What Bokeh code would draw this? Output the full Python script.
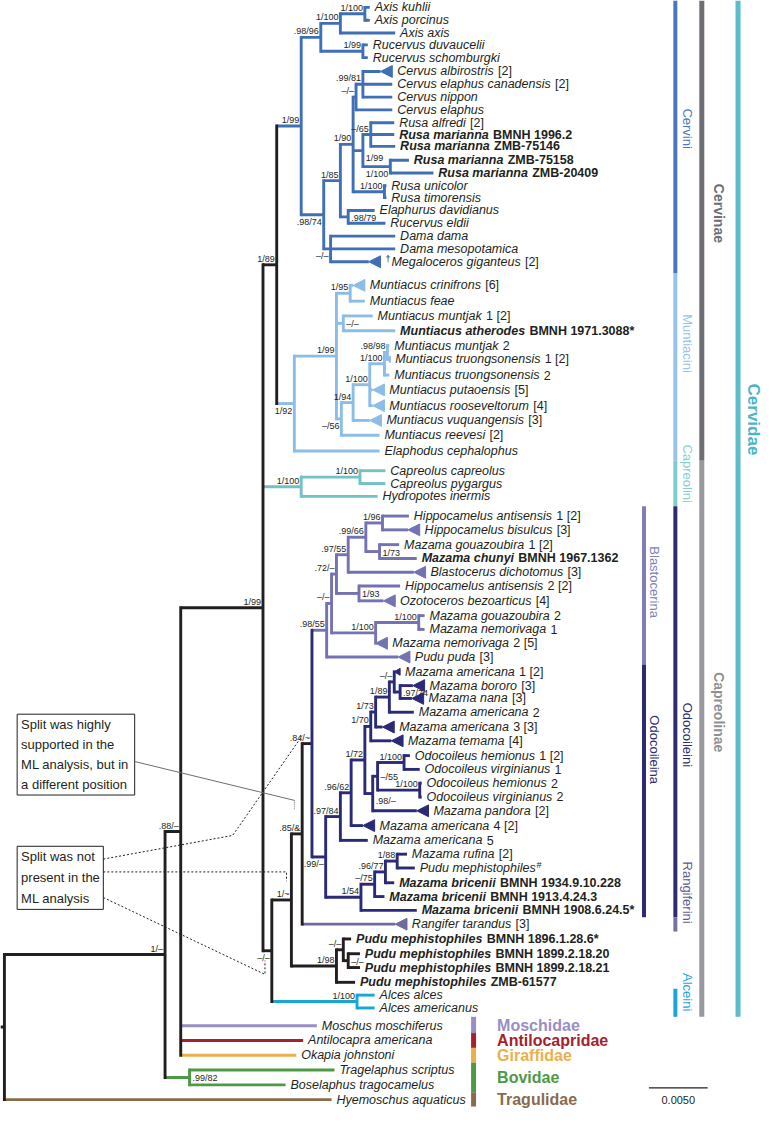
import re
import math
from bokeh.plotting import figure
from bokeh.models import Range1d, ColumnDataSource
from bokeh.core.properties import value
from bokeh.embed import file_html
from bokeh.resources import INLINE

# ----------------------------------------------------------------- data
TIP_NAME = [
    "Axis kuhlii", "Axis porcinus", "Axis axis", "Rucervus duvaucelii", "Rucervus schomburgki",
    "Cervus albirostris", "Cervus elaphus canadensis", "Cervus nippon", "Cervus elaphus", "Rusa alfredi",
    "Rusa marianna", "Rusa marianna", "Rusa marianna", "Rusa marianna", "Rusa unicolor",
    "Rusa timorensis", "Elaphurus davidianus", "Rucervus eldii", "Dama dama", "Dama mesopotamica",
    "\u2020Megaloceros giganteus",
    "Muntiacus crinifrons", "Muntiacus feae", "Muntiacus muntjak", "Muntiacus atherodes", "Muntiacus muntjak",
    "Muntiacus truongsonensis", "Muntiacus truongsonensis", "Muntiacus putaoensis", "Muntiacus rooseveltorum",
    "Muntiacus vuquangensis", "Muntiacus reevesi", "Elaphodus cephalophus",
    "Capreolus capreolus", "Capreolus pygargus", "Hydropotes inermis",
    "Hippocamelus antisensis", "Hippocamelus bisulcus", "Mazama gouazoubira", "Mazama chunyi",
    "Blastocerus dichotomus", "Hippocamelus antisensis", "Ozotoceros bezoarticus", "Mazama gouazoubira",
    "Mazama nemorivaga", "Mazama nemorivaga", "Pudu puda",
    "Mazama americana", "Mazama bororo", "Mazama nana", "Mazama americana", "Mazama americana",
    "Mazama temama", "Odocoileus hemionus", "Odocoileus virginianus", "Odocoileus hemionus",
    "Odocoileus virginianus", "Mazama pandora", "Mazama americana", "Mazama americana", "Mazama rufina",
    "Pudu mephistophiles", "Mazama bricenii", "Mazama bricenii", "Mazama bricenii", "Rangifer tarandus",
    "Pudu mephistophiles", "Pudu mephistophiles", "Pudu mephistophiles", "Pudu mephistophiles",
    "Alces alces", "Alces americanus",
    "Moschus moschiferus", "Antilocapra americana", "Okapia johnstoni", "Tragelaphus scriptus",
    "Boselaphus tragocamelus", "Hyemoschus aquaticus",
]
TIP_SUFFIX = [
    "", "", "", "", "",
    " [2]", " [2]", "", "", " [2]",
    " BMNH 1996.2", " ZMB-75146", " ZMB-75158", " ZMB-20409", "",
    "", "", "", "", "",
    " [2]",
    " [6]", "", " 1 [2]", " BMNH 1971.3088*", " 2",
    " 1 [2]", " 2", " [5]", " [4]",
    " [3]", " [2]", "",
    "", "", "",
    " 1 [2]", " [3]", " 1 [2]", " BMNH 1967.1362",
    " [3]", " 2 [2]", " [4]", " 2",
    " 1", " 2 [5]", " [3]",
    " 1 [2]", " [3]", " [3]", " 2", " 3 [3]",
    " [4]", " 1 [2]", " 1", " 2",
    " 2", " [2]", " 4 [2]", " 5", " [2]",
    "#", " BMNH 1934.9.10.228", " BMNH 1913.4.24.3", " BMNH 1908.6.24.5*", " [3]",
    " BMNH 1896.1.28.6*", " BMNH 1899.2.18.20", " BMNH 1899.2.18.21", " ZMB-61577",
    "", "",
    "", "", "", "",
    "", "",
]
# specimens sequenced in this study (bold), 1-based tip numbers
TIP_BOLD = [11, 12, 13, 14, 25, 40, 63, 64, 65, 67, 68, 69, 70]
# vertical row of every tip (top to bottom)
TIP_ROW = [
    7, 20, 33, 45, 58, 72, 85, 98, 111, 124, 136, 148, 162, 175, 188, 200, 213, 226, 239, 252, 265,
    289, 305, 320, 335, 350, 364, 380, 395, 411, 426, 441, 457,
    477, 490, 503,
    523, 537, 552, 566, 580, 594, 609, 624, 638, 652, 666,
    681, 695, 708, 722, 737, 751, 766, 780, 794, 808, 822, 837, 852, 866, 880, 895, 909, 923, 937,
    952, 967, 981, 996, 1009, 1022,
    1040, 1055, 1070, 1085, 1100, 1115,
]
# collapsed clades drawn as triangles (2 = normal, 1 = small)
TIP_COLLAPSED_NORMAL = [6, 21, 22, 29, 30, 31, 38, 41, 43, 46, 47, 49, 50, 52, 53, 58, 59, 66]
TIP_COLLAPSED_SMALL = [27, 48]

# topology with branch lengths (units: 60 = 0.0050 substitutions/site)
NEWICK = (
    "(((((("
    "(((t01:5,t02:5)nKP:25,t03:56)nAxis:20,(t04:5,t05:5)nRuc:43)n9896:20,"
    "(((((t06:30,t07:30,t08:30)n9981:7,t09:37)nCerv:3,"
    "((t10:24,t11:24,t12:25)n65:8,(t13:19,t14:44)n1100a:28)n199:10,"
    "(t15:2,t16:2)n1100b:32)n190:13,(t17:27,t18:38)n9879:8)n185:17,"
    "(t19:66,t20:66,t21:51)nDama:7)n9874:23)CV:25,"
    "(((t22:15,t23:15)n195:14,(t24:30,t25:53)nMd:7,"
    "(((((t26:2,t27:3)n9898:3,t28:5)n1100c:15,t29:15,t30:15)nPq:17,t31:29)n194:12,t32:39)n56:5)nM99:43,"
    "t33:87)nMun:18)CI:14,"
    "((t34:26,t35:26)nCapreolus:60,t36:78)nCap:39,"
    "(((("
    "((((((t37:27,t38:38)n196:17,(t39:20,t40:38)n173:14)n9966:18,t41:79)n9755:12,"
    "(t42:42,t43:37)n193:23)n72:5,((t44:6,t45:6)n1100e:44,t46:12)n1100d:45)nBm:5,t47:85)nBl:15,"
    "((((((((t48:6,(t49:25,t50:24)n9774:6)nMm:5,t51:25)n189:14,t52:19)n173b:5,t53:33)n170:6,"
    "(((t54:6,t55:16)n1100f:27,(t56:2,t57:2)n1100g:43)n55:5,t58:57)n98:8)n172:14,t59:24)n9662:11,t60:28)n9784:15,"
    "((((t61:10,t62:18)n188:12,t63:9)n9677:11,t64:10)n75:14,t65:57)n54:36)nOa:14)nOd:10,"
    "t66:107)n85:11,((t67:8,(t68:12,t69:12)nP2:5)nP1:7,t70:19)nPudu:46)n1t:20,"
    "(t71:18,t72:18)nAl:87)B:9)CE:84,"
    "t73:139,t74:125,t75:118)A:16,(t76:148,t77:98)nBov:25)P:164,t78:334)R;"
)

# posterior probability / ML bootstrap
SUPPORT = {
    "nKP": "1/100", "nAxis": "1/100", "n9896": ".98/96", "nRuc": "1/99", "CV": "1/99",
    "n9981": ".99/81", "nCerv": "\u2013/\u2013", "n65": "\u2013/65", "n199": "1/99", "n1100a": "1/100",
    "n1100b": "1/100", "n190": "1/90", "n185": "1/85", "n9879": ".98/79", "n9874": ".98/74",
    "nDama": "\u2013/\u2013", "CI": "1/89", "n195": "1/95", "nMd": "\u2013/\u2013", "n9898": ".98/98",
    "n1100c": "1/100", "nPq": "1/100", "n194": "1/94", "n56": "\u2013/56", "nM99": "1/99", "nMun": "1/92",
    "nCapreolus": "1/100", "nCap": "1/100", "CE": "1/99", "n196": "1/96", "n173": "1/73",
    "n9966": ".99/66", "n9755": ".97/55", "n193": "1/93", "n72": ".72/\u2013", "n1100e": "1/100",
    "n1100d": "1/100", "nBm": "\u2013/\u2013", "nBl": ".98/55", "n9774": ".97/74", "nMm": "\u2013/\u2013",
    "n189": "1/89", "n173b": "1/73", "n170": "1/70", "n1100f": "1/100", "n1100g": "1/100",
    "n55": "\u2013/55", "n98": ".98/\u2013", "n172": "1/72", "n9662": ".96/62", "n9784": ".97/84",
    "n188": "1/88", "n9677": ".96/77", "n75": "\u2013/75", "n54": "1/54", "nOa": ".99/\u2013",
    "nOd": ".84/~", "n85": ".85/&", "nP2": "\u2013/\u2013", "nP1": "\u2013/\u2013", "nPudu": "1/98",
    "n1t": "1/~", "nAl": "1/100", "B": "\u2013/\u2013", "A": ".88/\u2013", "nBov": ".99/82", "P": "1/\u2013",
}

FAMILIES = ["Moschidae", "Antilocapridae", "Giraffidae", "Bovidae", "Tragulidae"]
FAMILY_TIPS = [(73, 73), (74, 74), (75, 75), (76, 77), (78, 78)]

GROUPS = ["Cervini", "Muntiacini", "Capreolini", "Odocoileini", "Rangiferini", "Alceini",
          "Blastocerina", "Odocoileina", "Cervinae", "Capreolinae", "Cervidae"]
GROUP_TIPS = [(1, 21), (22, 33), (34, 36), (37, 65), (66, 66), (71, 72),
              (37, 47), (48, 65), (1, 33), (34, 72), (1, 72)]

SCALE_BAR_VALUE = 0.005
UNITS_PER_SUBST = 12000.0

# ----------------------------------------------------------------- style
INK = "#231f20"
FONT = "Liberation Sans"
CLADE_COLOR = {
    "CV": "#3f6fb6", "nMun": "#8cbde6", "nCap": "#72c2c5", "nBl": "#7472b2", "nOd": "#2b2a78",
    "t66": "#6f6b9b", "nAl": "#17a6d6", "t73": "#998ec4", "t74": "#a4222d", "t75": "#e9b04e",
    "nBov": "#4e9945", "t78": "#8a6b4c",
}
STEM_COLOR = {"nOd": INK}
LABEL_PLACE = {
    "n199": "br", "n1100a": "b", "n9879": "r", "n9874": "b", "nDama": "b", "nMd": "r", "n56": "b",
    "nMun": "b", "n173": "r", "n193": "r", "n9774": "r", "n55": "r", "n98": "br", "nOa": "b",
    "nP2": "r", "B": "b", "nBov": "r",
}
FAMILY_COLOR = ["#998ec4", "#a4222d", "#e9b04e", "#4e9945", "#8a6b4c"]
# column, bar colour, text colour, font px, bold, label centre (None = bar centre)
GROUP_STYLE = [
    (1, "#4a76bb", "#4a76bb", 13, False, 130),
    (1, "#95c3ea", "#95c3ea", 13, False, 348),
    (1, "#80cccc", "#86cfcf", 13, False, 480),
    (1, "#2e2c70", "#2e2c70", 13, False, 745),
    (1, "#77739f", "#5e5a8c", 13, False, 905),
    (1, "#1aa7d7", "#1aa7d7", 13, False, 1006),
    (0, "#7f7eb9", "#8080bb", 13, False, 590),
    (0, "#2e2c70", "#2e2c70", 13, False, 760),
    (2, "#6d6e71", "#6d6e71", 14, True, 216),
    (2, "#98999c", "#8f9093", 14, True, 722),
    (3, "#5bbccb", "#4db5c5", 17, True, 425),
]
COL_BAR_X = [657, 689, 716, 753]
COL_BAR_W = [4, 4, 5, 5]
COL_TEXT_X = [668, 701, 734, 769]

REG_W = {' ': 278, '#': 556, '*': 389, '-': 333, '.': 278, '/': 278, '[': 278, ']': 278, '\u2020': 556,
         'A': 667, 'B': 667, 'C': 722, 'D': 722, 'E': 667, 'F': 611, 'G': 778, 'H': 722, 'I': 278,
         'J': 500, 'K': 667, 'L': 556, 'M': 833, 'N': 722, 'O': 778, 'P': 667, 'Q': 778, 'R': 722,
         'S': 667, 'T': 611, 'U': 722, 'V': 667, 'W': 944, 'X': 667, 'Y': 667, 'Z': 611,
         'a': 556, 'b': 556, 'c': 500, 'd': 556, 'e': 556, 'f': 278, 'g': 556, 'h': 556, 'i': 222,
         'j': 222, 'k': 500, 'l': 222, 'm': 833, 'n': 556, 'o': 556, 'p': 556, 'q': 556, 'r': 333,
         's': 500, 't': 278, 'u': 556, 'v': 500, 'w': 722, 'x': 500, 'y': 500, 'z': 500}
BOLD_W = {' ': 278, '#': 556, '*': 389, '-': 333, '.': 278, '/': 278, '[': 333, ']': 333,
          'A': 722, 'B': 722, 'C': 722, 'D': 722, 'E': 667, 'F': 611, 'G': 778, 'H': 722, 'I': 278,
          'M': 833, 'N': 722, 'O': 778, 'P': 667, 'R': 722, 'S': 667, 'Z': 611,
          'a': 556, 'b': 611, 'c': 556, 'd': 611, 'e': 556, 'f': 333, 'g': 611, 'h': 611, 'i': 278,
          'j': 278, 'k': 556, 'l': 278, 'm': 889, 'n': 611, 'o': 611, 'p': 611, 'q': 611, 'r': 389,
          's': 556, 't': 333, 'u': 611, 'v': 556, 'w': 778, 'x': 556, 'y': 556, 'z': 500}


def twidth(s, bold, size):
    tbl = BOLD_W if bold else REG_W
    return sum(tbl.get(ch, 556) for ch in s) * size / 1000.0


# ----------------------------------------------------------------- tree
def parse_newick(s):
    s = s.strip().rstrip(";")
    pos = 0

    def node():
        nonlocal pos
        n = {"children": []}
        if s[pos] == "(":
            pos += 1
            while True:
                n["children"].append(node())
                if s[pos] == ",":
                    pos += 1
                    continue
                assert s[pos] == ")"
                pos += 1
                break
        m = re.match(r"([A-Za-z0-9_]*)(?::([0-9.]+))?", s[pos:])
        n["name"] = m.group(1)
        n["bl"] = float(m.group(2)) if m.group(2) else 0.0
        pos += m.end()
        return n

    root = node()
    assert pos == len(s), (pos, len(s))
    return root


def tip_idx(name):
    return int(name[1:]) - 1


root = parse_newick(NEWICK)
nodes = {}


def setup(n, parent):
    n["parent"] = parent
    nodes[n["name"]] = n
    for c in n["children"]:
        setup(c, n)


setup(root, None)

ROOT_X = 4.0


def place(n, xp):
    n["x"] = xp + n["bl"]
    for c in n["children"]:
        place(c, n["x"])
    if n["children"]:
        n["y"] = (n["children"][0]["y"] + n["children"][-1]["y"]) / 2.0
    else:
        n["y"] = TIP_ROW[tip_idx(n["name"])]


place(root, ROOT_X)

# ----------------------------------------------------------------- figure
W, H = 763, 1108
XR, YR = 779.0, 1124.0
KX, KY = W / XR, H / YR

p = figure(width=W, height=H, x_range=Range1d(0, XR), y_range=Range1d(YR, 0),
           output_backend="svg", toolbar_location=None, min_border=0,
           x_axis_location=None, y_axis_location=None)
p.grid.visible = False
p.outline_line_color = None
p.background_fill_color = "white"
p.border_fill_color = "white"

hseg = dict(x0=[], y0=[], x1=[], y1=[], c=[])
vseg = dict(x0=[], y0=[], x1=[], y1=[], c=[])
tri = dict(xs=[], ys=[], c=[])
TRI = {2: (12.0, 6.0), 1: (6.0, 3.5)}


def draw(n, pcol):
    col = CLADE_COLOR.get(n["name"], pcol)
    n["col"] = col
    if n["parent"] is not None:
        x_end = n["x"]
        if not n["children"]:
            k = tip_idx(n["name"]) + 1
            kind = 2 if k in TIP_COLLAPSED_NORMAL else (1 if k in TIP_COLLAPSED_SMALL else 0)
            if kind:
                w, h = TRI[kind]
                w = min(w, n["bl"])
                x_end = n["x"] - w
                tri["xs"].append([x_end, n["x"], n["x"]])
                tri["ys"].append([n["y"], n["y"] - h, n["y"] + h])
                tri["c"].append(col)
        hseg["x0"].append(n["parent"]["x"]); hseg["x1"].append(x_end)
        hseg["y0"].append(n["y"]); hseg["y1"].append(n["y"])
        hseg["c"].append(STEM_COLOR.get(n["name"], col))
    if n["children"]:
        vseg["x0"].append(n["x"]); vseg["x1"].append(n["x"])
        vseg["y0"].append(n["children"][0]["y"]); vseg["y1"].append(n["children"][-1]["y"])
        vseg["c"].append(col)
    for c in n["children"]:
        draw(c, col)


draw(root, INK)
# root stub
hseg["x0"].append(0.0); hseg["x1"].append(root["x"])
hseg["y0"].append(root["y"]); hseg["y1"].append(root["y"]); hseg["c"].append(INK)

LW = 2.9
p.segment("x0", "y0", "x1", "y1", source=ColumnDataSource(hseg), line_color="c",
          line_width=LW, line_cap="butt")
p.segment("x0", "y0", "x1", "y1", source=ColumnDataSource(vseg), line_color="c",
          line_width=LW, line_cap="square")
p.patches("xs", "ys", source=ColumnDataSource(tri), fill_color="c", line_color="c", line_width=1)

# ----------------------------------------------------------------- tip labels
GAP = 5.0
TFS = 12.5
SPACE = 0.278
groups = {s: dict(x=[], y=[], t=[]) for s in ["italic", "bold italic", "normal", "bold"]}
sup = dict(x=[], y=[], t=[])
for name, n in nodes.items():
    if n["children"]:
        continue
    i = tip_idx(name)
    bold = (i + 1) in TIP_BOLD
    tx = n["x"] + GAP
    label = TIP_NAME[i]
    if label.startswith("\u2020"):
        # extinct taxon: small raised dagger in front of the name
        sup["x"].append(tx); sup["y"].append(n["y"] - 3); sup["t"].append("\u2020")
        tx += 6.0 / KX
        label = label[1:]
    g = groups["bold italic" if bold else "italic"]
    g["x"].append(tx); g["y"].append(n["y"]); g["t"].append(label)
    suf = TIP_SUFFIX[i]
    if suf:
        wpx = twidth(label, bold, TFS) + 0.8
        if suf.startswith(" "):
            wpx += SPACE * TFS
            suf = suf.lstrip(" ")
        sx = tx + wpx / KX
        if suf == "#":
            sup["x"].append(sx); sup["y"].append(n["y"] - 3); sup["t"].append(suf)
        else:
            g2 = groups["bold" if bold else "normal"]
            g2["x"].append(sx); g2["y"].append(n["y"]); g2["t"].append(suf)

for style, g in groups.items():
    p.text("x", "y", "t", source=ColumnDataSource(g), text_font=value(FONT),
           text_font_size=value("%gpx" % TFS), text_font_style=style, text_color=INK,
           text_baseline="middle", text_align="left")
p.text("x", "y", "t", source=ColumnDataSource(sup), text_font=value(FONT),
       text_font_size=value("9px"), text_color=INK, text_baseline="middle", text_align="left")

# ----------------------------------------------------------------- support labels
PLACE = {"a": ("right", "bottom", -2.0, -1.0), "b": ("right", "top", -2.0, 2.0),
         "r": ("left", "middle", 3.0, 1.0), "br": ("left", "top", 3.0, 2.0)}
lab = {k: dict(x=[], y=[], t=[]) for k in PLACE}
for name, txt in SUPPORT.items():
    n = nodes[name]
    k = LABEL_PLACE.get(name, "a")
    al, bl, dx, dy = PLACE[k]
    lab[k]["x"].append(n["x"] + dx); lab[k]["y"].append(n["y"] + dy); lab[k]["t"].append(txt)
for k, g in lab.items():
    al, bl, dx, dy = PLACE[k]
    p.text("x", "y", "t", source=ColumnDataSource(g), text_font=value(FONT),
           text_font_size=value("9px"), text_color=INK, text_align=al, text_baseline=bl)


# ----------------------------------------------------------------- bars on the right
def span(first, last):
    top = (TIP_ROW[first - 2] + TIP_ROW[first - 1]) / 2.0 if first > 1 else TIP_ROW[0] - 7
    bot = (TIP_ROW[last - 1] + TIP_ROW[last]) / 2.0 if last < len(TIP_ROW) else TIP_ROW[-1] + 7
    return top, bot


bars = dict(l=[], r=[], t=[], b=[], c=[])
for (name, (f, l), st) in zip(GROUPS, GROUP_TIPS, GROUP_STYLE):
    col, bc, tc, fs, bold, ly = st
    top, bot = span(f, l)
    bx, bw = COL_BAR_X[col], COL_BAR_W[col] / KX
    bars["l"].append(bx - bw / 2); bars["r"].append(bx + bw / 2)
    bars["t"].append(top); bars["b"].append(bot); bars["c"].append(bc)
    cy = ly if ly is not None else (top + bot) / 2.0
    p.text(x=[COL_TEXT_X[col]], y=[cy], text=[name], angle=-math.pi / 2,
           text_font=value(FONT), text_font_size=value("%dpx" % fs),
           text_font_style="bold" if bold else "normal", text_color=tc,
           text_align="center", text_baseline="middle")

FAM_X, FAM_W, FAM_TX = 483, 5 / KX, 507
for name, (f, l), c in zip(FAMILIES, FAMILY_TIPS, FAMILY_COLOR):
    top, bot = span(f, l)
    bars["l"].append(FAM_X - FAM_W / 2); bars["r"].append(FAM_X + FAM_W / 2)
    bars["t"].append(top); bars["b"].append(bot); bars["c"].append(c)
    cy = (TIP_ROW[f - 1] + TIP_ROW[l - 1]) / 2.0
    p.text(x=[FAM_TX], y=[cy], text=[name], text_font=value(FONT), text_font_size=value("16px"),
           text_font_style="bold", text_color=c, text_align="left", text_baseline="middle")

p.quad(left="l", right="r", top="t", bottom="b", source=ColumnDataSource(bars),
       fill_color="c", line_color=None)

# ----------------------------------------------------------------- scale bar
SB_X1, SB_Y = 722.0, 1103.0
sb_len = SCALE_BAR_VALUE * UNITS_PER_SUBST
p.segment(x0=[SB_X1 - sb_len], y0=[SB_Y], x1=[SB_X1], y1=[SB_Y], line_color=INK, line_width=1.3)
p.text(x=[SB_X1 - sb_len / 2], y=[SB_Y + 12], text=["%.4f" % SCALE_BAR_VALUE], text_font=value(FONT),
       text_font_size=value("11px"), text_color=INK, text_align="center", text_baseline="middle")

# ----------------------------------------------------------------- annotation boxes
BOXES = [
    ((17, 137, 724, 806), ["Split was highly", "supported in the", "ML analysis, but in", "a different position"]),
    ((17, 105, 858, 922), ["Split was not", "present in the", "ML analysis"]),
]
for (l, r, t, b), lines in BOXES:
    p.quad(left=[l], right=[r], top=[t], bottom=[b], fill_color="white", line_color=INK, line_width=1)
    n = len(lines)
    step = (b - t) / n
    p.text(x=[l + 4] * n, y=[t + step * (k + 0.5) for k in range(n)], text=lines,
           text_font=value(FONT), text_font_size=value("13px"), text_color=INK,
           text_align="left", text_baseline="middle")

# solid pointer from the first box to the '&' of .85/&
n85 = nodes["n85"]
p.line(x=[137, n85["x"] - 8], y=[772, n85["y"] - 34], line_color="#6d6e71", line_width=1)
p.line(x=[n85["x"] - 8, n85["x"] - 8], y=[n85["y"] - 34, n85["y"] - 24], line_color="#6d6e71",
       line_width=1, line_dash="1 1")
# dotted pointers from the second box
nOd, n1t, nB = nodes["nOd"], nodes["n1t"], nodes["B"]
pointers = [
    ([105, 237, n85["x"]], [871, 847, nOd["y"] - 8]),
    ([105, n1t["x"] - 5, n1t["x"] - 5], [884, 884, n1t["y"] - 19]),
    ([105, nB["x"] - 7, nB["x"] - 7], [910, nB["y"] + 24, nB["y"] + 10]),
]
for xs, ys in pointers:
    p.line(x=xs, y=ys, line_color=INK, line_width=1, line_dash="2 2")

open("out.html", "w").write(file_html(p, INLINE))
